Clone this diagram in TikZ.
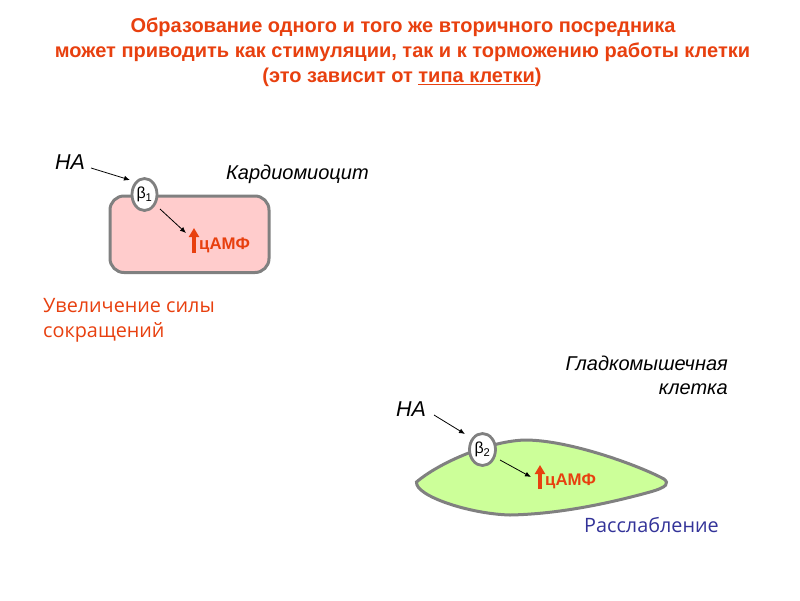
\documentclass[tikz,border=0pt]{standalone}
\usepackage{fontspec}
\setmainfont{Liberation Sans}
\newfontfamily\comicf{Open Sans}
\usetikzlibrary{arrows.meta,shapes.geometric}
\definecolor{tred}{HTML}{E8400F}
\definecolor{cellgray}{HTML}{808080}
\definecolor{cellpink}{HTML}{FFCCCC}
\definecolor{cellgreen}{HTML}{CCFF99}
\definecolor{relax}{HTML}{333399}
\newcommand{\fs}[1]{\fontsize{#1}{#1}\selectfont}
\tikzset{
  x=1pt,y=-1pt,
  titletext/.style={text=tred,font=\fs{20}\bfseries,align=center,inner sep=0pt},
  cellname/.style={font=\fs{20}\itshape,inner sep=0pt},
  natext/.style={font=\fs{21.5}\itshape,inner sep=0pt},
  outcome/.style={font=\comicf\fs{19.8},inner sep=0pt,align=left},
  receptor/.style={ellipse,draw=cellgray,line width=2.8pt,fill=white,minimum width=25pt,minimum height=32pt,inner sep=0pt,font=\fs{16}},
  camp/.style={font=\fs{16.8}\bfseries,text=tred,inner sep=0pt},
  thinarrow/.style={-{Latex[length=6pt,width=5pt]},line width=0.8pt,black},
  uparrow/.style={-{Triangle[length=9pt,width=10pt]},line width=3.4pt,tred},
  cellline/.style={draw=cellgray,line width=3pt}
}
\begin{document}
\begin{tikzpicture}
\useasboundingbox (0,0) rectangle (800,600);
\fill[white] (0,0) rectangle (800,600);
\node[titletext] (title1) at (403,27) {Образование одного и того же вторичного посредника};
\node[titletext] (title2) at (402.5,52) {может приводить как стимуляции, так и к торможению работы клетки};
\node[titletext] (title3) at (402,77) {(это зависит от \underline{типа клетки})};
% Cardiomyocyte
\draw[cellline,fill=cellpink,rounded corners=14pt] (110,196) rectangle (269,272.5);
\node[receptor] (b1) at (144.5,194.5) {β\textsubscript{1}};
\node[natext,anchor=west] (na1) at (55,162) {НА};
\node[cellname,anchor=west] (card) at (226,174.5) {Кардиомиоцит};
\coordinate (up1s) at (194,253);
\coordinate (up1e) at (194,228);
\draw[uparrow] (up1s) -- (up1e);
\node[camp,anchor=west] (camp1) at (199,245) {цАМФ};
\coordinate (a1s) at (91,168);
\coordinate (a1e) at (130,180);
\coordinate (a2s) at (160,209);
\coordinate (a2e) at (186,233);
\draw[thinarrow] (a1s) -- (a1e);
\draw[thinarrow] (a2s) -- (a2e);
\node[outcome,text=tred,anchor=north west] (inc) at (43,298) {\parbox{200pt}{\baselineskip=25pt Увеличение силы\\сокращений}};
% Smooth muscle
\draw[cellline,fill=cellgreen] (416.5,482)
  .. controls (440,462) and (490,441) .. (525,440)
  .. controls (570,440) and (640,466) .. (664,479)
  .. controls (669,483) and (668,487) .. (650,492)
  .. controls (610,503) and (560,514) .. (510,515)
  .. controls (470,514) and (415,496) .. (416.5,482) -- cycle;
\node[receptor,minimum width=26pt] (b2) at (482.5,449.5) {β\textsubscript{2}};
\node[natext,anchor=west] (na2) at (396,409.5) {НА};
\node[cellname,align=right,anchor=north east] (smooth) at (728,356) {Гладкомышечная\\[3.5pt]клетка};
\coordinate (up2s) at (540,489);
\coordinate (up2e) at (540,465);
\draw[uparrow] (up2s) -- (up2e);
\node[camp,anchor=west] (camp2) at (545,481) {цАМФ};
\coordinate (a3s) at (434,415);
\coordinate (a3e) at (465,434);
\coordinate (a4s) at (500,460);
\coordinate (a4e) at (531,477);
\draw[thinarrow] (a3s) -- (a3e);
\draw[thinarrow] (a4s) -- (a4e);
\node[outcome,text=relax,anchor=west] (rel) at (584,525.5) {Расслабление};
\end{tikzpicture}
\end{document}
